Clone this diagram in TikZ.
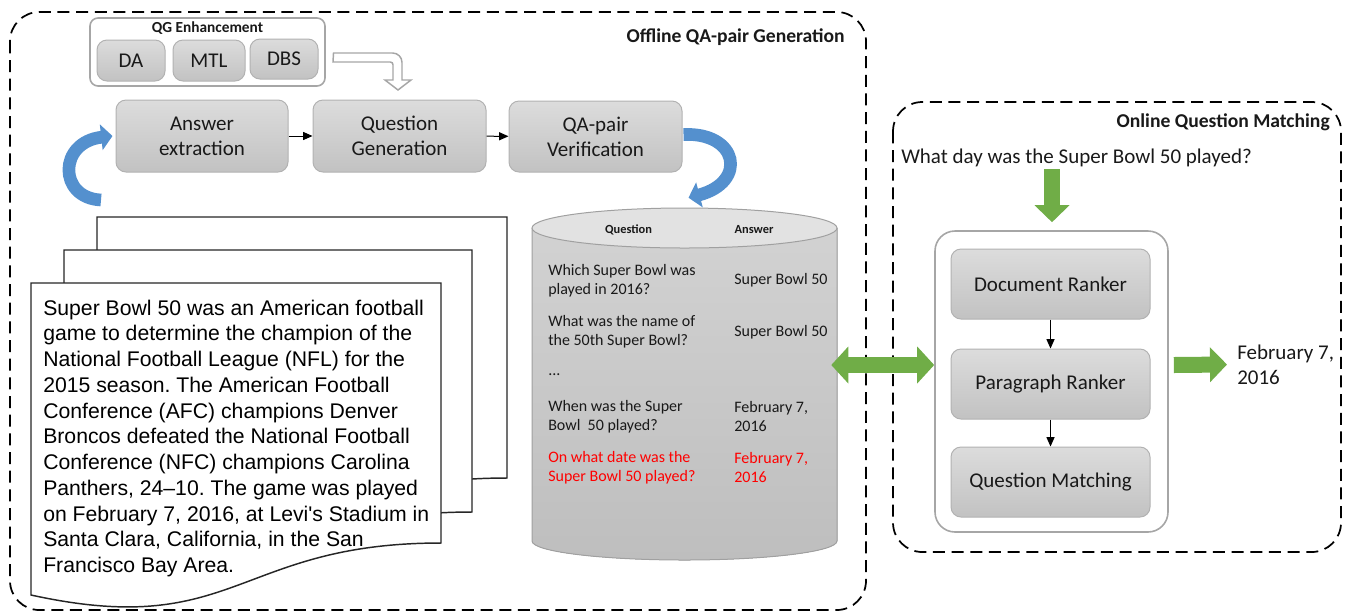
\documentclass[tikz,border=0pt]{standalone}
\usepackage{fontspec}
\setmainfont{Carlito}
\newfontfamily\arialfont{Liberation Sans}
\usetikzlibrary{arrows.meta,calc}
\definecolor{boxtop}{RGB}{220,220,220}
\definecolor{boxbot}{RGB}{194,194,194}
\definecolor{boxline}{RGB}{178,178,178}
\definecolor{frameline}{RGB}{166,166,166}
\definecolor{arrgreen}{RGB}{112,173,71}
\definecolor{arrblue}{RGB}{84,144,206}
\definecolor{cyltop}{RGB}{226,226,226}
\definecolor{cylA}{RGB}{210,210,210}
\definecolor{cylB}{RGB}{190,190,190}
\definecolor{cylline}{RGB}{160,160,160}
\definecolor{txt}{RGB}{25,25,25}
\definecolor{qred}{RGB}{255,0,0}
\frenchspacing
\begin{document}
\begin{tikzpicture}[x=0.75pt,y=-0.75pt,
  graybox/.style={draw=boxline, line width=0.75pt, rounded corners=7.5pt,
    top color=boxtop, bottom color=boxbot, align=center, inner sep=0pt,
    text=txt, font=\fontsize{15.75}{18.75}\selectfont},
  whiteframe/.style={draw=frameline, line width=1.2pt, fill=white},
  panel/.style={draw=black, line width=1.3pt, dash pattern=on 9pt off 5pt, rounded corners=22pt},
  paneltitle/.style={font=\bfseries\fontsize{14.7}{17}\selectfont, anchor=east, inner sep=0pt, text=txt},
  smallarrow/.style={line width=0.75pt, -{Triangle[length=7pt,width=6pt]}},
  bluearrow/.style={draw=arrblue, line width=9.5pt, -{Triangle[length=8.5pt,width=19pt]}},
  garrowone/.style={draw=arrgreen, line width=12pt, -{Triangle[length=12.75pt,width=25.5pt]}},
  garrowtwo/.style={draw=arrgreen, line width=12pt, {Triangle[length=12.75pt,width=27pt]}-{Triangle[length=12.75pt,width=27pt]}},
  docpage/.style={draw=black!85, line width=1.1pt, fill=white},
  cyltext/.style={font=\fontsize{12}{14.25}\selectfont, align=left, anchor=west, inner sep=0pt, text=txt},
  bigtext/.style={font=\fontsize{15.75}{18.75}\selectfont, align=left, inner sep=0pt, text=txt}
]
\useasboundingbox (0,0) rectangle (1348,612);

% panels
\draw[panel] (10,12) rectangle (866,610);
\draw[panel] (893,102) rectangle (1341,552);
\node[paneltitle] (offt) at (845,37) {Offline QA-pair Generation};
\node[paneltitle] (ont) at (1330,122) {Online Question Matching};

% QG enhancement
\node[whiteframe, rounded corners=6pt, minimum width=176.25pt, minimum height=51pt] (qge) at (207.5,52) {};
\node[font=\bfseries\fontsize{11.5}{13}\selectfont, inner sep=0pt, text=txt] (qgt) at (207.5,28) {QG Enhancement};
\node[graybox, minimum width=51pt, minimum height=30.75pt] (da) at (131,60.5) {DA};
\node[graybox, minimum width=54pt, minimum height=30.75pt] (mtl) at (209,60.5) {MTL};
\node[graybox, minimum width=51pt, minimum height=30pt] (dbs) at (284,59) {DBS};

% pipeline boxes
\node[graybox, minimum width=129pt, minimum height=54pt] (ae) at (202,136) {Answer\\extraction};
\node[graybox, minimum width=129.75pt, minimum height=54pt] (qg) at (399.5,136) {Question\\Generation};
\node[graybox, minimum width=129.75pt, minimum height=53.25pt] (qv) at (595.5,136.5) {QA-pair\\Verification};
\draw[smallarrow] (ae) -- (qg);
\draw[smallarrow] (qg) -- (qv);

% hollow bent arrow
\draw[draw=frameline, line width=1.1pt, fill=white]
  (dbs.east |- 0,53) ++(15,0) [rounded corners=7pt] -- (402,53) [sharp corners] -- (402,80) -- (411,80) -- (398,90)
  -- (385,80) -- (393,80) [rounded corners=2pt] -- (393,62) [sharp corners] -- (333,62) -- cycle;

% documents
\draw[docpage] (97,217) -- (507,217) -- (507,478) .. controls (302,478) and (302,575) .. (97,531) -- cycle;
\draw[docpage] (64,250) -- (472,250) -- (472,512) .. controls (267,512) and (267,609) .. (64,564) -- cycle;
\draw[docpage] (31,283) -- (441,283) -- (441,543) .. controls (236,543) and (236,640) .. (31,595) -- cycle;
\node[font=\arialfont\fontsize{15.9}{19.3}\selectfont, align=left, anchor=north west, inner sep=0pt, text=black] (doctext) at (43,299.5)
{Super Bowl 50 was an American football\\
game to determine the champion of the\\
National Football League (NFL) for the\\
2015 season. The American Football\\
Conference (AFC) champions Denver\\
Broncos defeated the National Football\\
Conference (NFC) champions Carolina\\
Panthers, 24–10. The game was played\\
on February 7, 2016, at Levi's Stadium in\\
Santa Clara, California, in the San\\
Francisco Bay Area.};
\coordinate (doctop) at (101,200);

% cylinder
\fill[top color=cylA, bottom color=cylB] (532,228) -- (532,541)
  arc[start angle=180, end angle=360, x radius=114.375pt, y radius=14.25pt] -- (837,228) -- cycle;
\draw[cylline, line width=0.75pt] (532,228) -- (532,541)
  arc[start angle=180, end angle=360, x radius=114.375pt, y radius=14.25pt] -- (837,228);
\draw[cylline, line width=0.75pt, fill=cyltop] (684.5,228) ellipse[x radius=114.375pt, y radius=15pt];
\node[inner sep=0pt, minimum width=228.75pt, minimum height=264pt] (db) at (684.5,384) {};
\node[font=\bfseries\fontsize{9.3}{11}\selectfont, inner sep=0pt, text=txt] (hq) at (628.5,230) {Question};
\node[font=\bfseries\fontsize{9.3}{11}\selectfont, inner sep=0pt, text=txt] (ha) at (754,230) {Answer};
\node[cyltext] (q1) at (548,280.5) {Which Super Bowl was\\played in 2016?};
\node[cyltext] (a1) at (734,280) {Super Bowl 50};
\node[cyltext] (q2) at (548,331.5) {What was the name of\\the 50th Super Bowl?};
\node[cyltext] (a2) at (734,332) {Super Bowl 50};
\node[cyltext] (dots) at (548,375) {...};
\node[cyltext] (q3) at (548,416.5) {When was the Super\\Bowl~~50 played?};
\node[cyltext] (a3) at (734,416.5) {February 7,\\2016};
\node[cyltext, text=qred] (q4) at (548,467.5) {On what date was the\\Super Bowl 50 played?};
\node[cyltext, text=qred] (a4) at (734,467.5) {February 7,\\2016};

% blue curved arrows
\draw[bluearrow] (doctop) .. controls (58,198) and (58,142) .. ($(ae.west)+(-3,0)$);
\draw[bluearrow] ($(qv.east)+(1,-2)$) .. controls (738,132) and (748,182) .. ($(db.north)+(4,-10)$);

% online part
\node[bigtext, anchor=west] (uq) at (901,158) {What day was the Super Bowl 50 played?};
\node[whiteframe, rounded corners=15pt, minimum width=174.75pt, minimum height=225.75pt] (cont) at (1051.5,381.5) {};
\node[graybox, minimum width=149.25pt, minimum height=52.5pt] (dr) at (1050.5,284) {Document Ranker};
\node[graybox, minimum width=149.25pt, minimum height=52.5pt] (pr) at (1050.5,384) {Paragraph Ranker};
\node[graybox, minimum width=149.25pt, minimum height=52.5pt] (qm) at (1050.5,482) {Question Matching};
\draw[smallarrow] (dr) -- (pr);
\draw[smallarrow] (pr) -- (qm);
\node[bigtext, anchor=west] (ans) at (1237,364.5) {February 7,\\2016};

% green arrows
\draw[garrowone] ($(cont.north)+(0.5,-61)$) -- ($(cont.north)+(0.5,-8)$);
\draw[garrowtwo] ($(db.east)+(-6,-19)$) -- ($(cont.west)+(0,-16.5)$);
\draw[garrowone] ($(cont.east)+(5,-16.5)$) -- ($(ans.west)+(-10,0)$);
\end{tikzpicture}
\end{document}
